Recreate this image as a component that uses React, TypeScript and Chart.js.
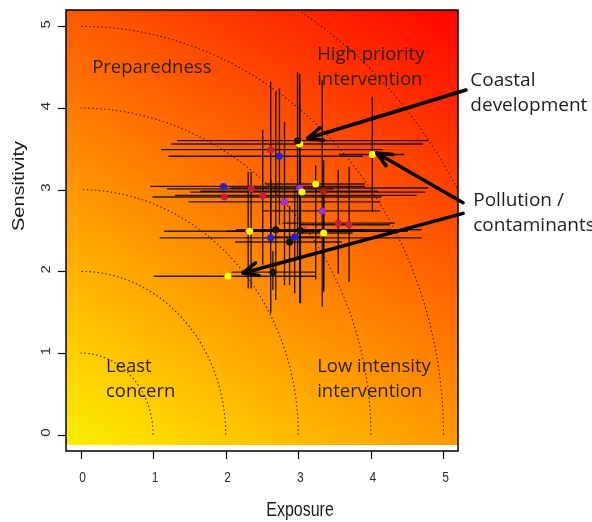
import React, { useEffect, useRef } from "react";
import { Chart, registerables } from "chart.js";

Chart.register(...registerables);

// ---------------- data ----------------
const expo = [2.62, 2.74, 3.02, 2.99, 4.02, 1.97, 2.35, 1.98, 2.51, 2.81, 3.02, 3.05, 3.24, 3.35, 3.33, 3.55, 3.70, 2.31, 2.33, 2.69, 2.62, 3.03, 2.95, 2.88, 3.35, 2.65, 2.03];
const sens = [3.49, 3.41, 3.56, 3.60, 3.43, 3.04, 3.01, 2.91, 2.93, 2.85, 3.02, 2.97, 3.07, 2.98, 2.74, 2.59, 2.57, 2.49, 2.49, 2.51, 2.41, 2.50, 2.42, 2.36, 2.47, 1.99, 1.94];
const expoLo = [1.11, 1.21, 1.25, 1.33, 3.56, 0.96, 1.19, 0.99, 1.30, 1.49, 2.06, 1.51, 2.54, 1.65, 2.51, 2.78, 3.02, 1.15, 2.01, 2.14, 1.09, 2.40, 2.60, 2.13, 3.00, 2.08, 1.01];
const expoHi = [4.17, 3.89, 4.72, 4.79, 4.46, 3.92, 3.49, 4.15, 4.63, 4.13, 4.79, 4.75, 3.92, 4.10, 4.13, 4.33, 4.26, 4.49, 4.51, 4.70, 4.70, 3.90, 3.30, 3.60, 3.75, 3.24, 3.24];
const sensLo = [2.38, 2.57, 1.61, 2.14, 2.73, 3.04, 1.79, 2.91, 2.08, 1.83, 2.02, 2.97, 1.90, 1.77, 1.57, 1.97, 1.87, 1.79, 2.49, 1.65, 1.49, 1.61, 1.73, 1.83, 1.75, 1.77, 1.94];
const sensHi = [4.32, 4.24, 4.42, 4.44, 4.14, 3.04, 3.22, 2.91, 3.73, 3.83, 4.30, 2.97, 3.30, 3.36, 4.34, 3.24, 3.28, 3.22, 2.49, 4.20, 3.12, 3.40, 3.00, 2.80, 2.90, 2.25, 1.94];
const pointColors = [
  "#c81e3c", "#2222dd", "#ffff00", "#111111", "#ffff00", "#2222dd", "#c81e3c", "#c81e3c", "#c81e3c",
  "#9a30e0", "#9a30e0", "#ffff00", "#ffff00", "#b01818", "#9a30e0", "#c81e3c", "#c81e3c", "#d030d0",
  "#ffff00", "#111111", "#2222dd", "#111111", "#2222dd", "#111111", "#ffff00", "#111111", "#ffff00",
];

const xTicks = [0, 1, 2, 3, 4, 5];
const yTicks = [0, 1, 2, 3, 4, 5];
const radii = [1, 2, 3, 4, 5, 6];

const regionLabels = [
  { lines: ["Preparedness"], x: 0.16, y: 4.49 },
  { lines: ["High priority", "intervention"], x: 3.26, y: 4.65 },
  { lines: ["Least", "concern"], x: 0.35, y: 0.83 },
  { lines: ["Low intensity", "intervention"], x: 3.26, y: 0.83 },
];
const calloutLabels = [
  { lines: ["Coastal", "development"], x: 5.37, y: 4.34 },
  { lines: ["Pollution /", "contaminants"], x: 5.41, y: 2.87 },
];
const arrowFrom = [[5.31, 4.22], [5.27, 2.84], [5.27, 2.71]];
const arrowTo = [[3.13, 3.63], [4.08, 3.45], [2.24, 1.98]];

const xTitle = "Exposure";
const yTitle = "Sensitivity";

// ---------------- plugins ----------------
const clamp = (v: number) => Math.max(0, Math.min(255, Math.round(v)));

const backgroundPlugin = {
  id: "heatBackground",
  beforeDatasetsDraw(chart: any) {
    const { ctx, chartArea, scales } = chart;
    const { left, top, right } = chartArea;
    const xs = scales.x;
    const ys = scales.y;
    const yEnd = ys.getPixelForValue(-0.13);
    const w = Math.round(right - left);
    const h = Math.round(yEnd - top);
    const off = document.createElement("canvas");
    off.width = w;
    off.height = h;
    const octx = off.getContext("2d")!;
    const img = octx.createImageData(w, h);
    for (let j = 0; j < h; j++) {
      const yv = ys.getValueForPixel(top + j + 0.5);
      for (let i = 0; i < w; i++) {
        const xv = xs.getValueForPixel(left + i + 0.5);
        const g = clamp(233 - 16 * xv - 28 * yv);
        const r = clamp(248 + 8 * (xv + yv));
        const k = (j * w + i) * 4;
        img.data[k] = r;
        img.data[k + 1] = g;
        img.data[k + 2] = 0;
        img.data[k + 3] = 255;
      }
    }
    octx.putImageData(img, 0, 0);
    ctx.save();
    ctx.drawImage(off, left, top);

    // dotted quarter circles
    ctx.beginPath();
    ctx.rect(chartArea.left, chartArea.top, chartArea.right - chartArea.left, yEnd - chartArea.top);
    ctx.clip();
    ctx.setLineDash([1.5, 2.5]);
    ctx.lineWidth = 1.1;
    ctx.strokeStyle = "rgba(50,20,0,0.85)";
    for (const r of radii) {
      ctx.beginPath();
      for (let s = 0; s <= 200; s++) {
        const th = (s / 200) * (Math.PI / 2);
        const px = xs.getPixelForValue(r * Math.cos(th));
        const py = ys.getPixelForValue(r * Math.sin(th));
        if (s === 0) ctx.moveTo(px, py);
        else ctx.lineTo(px, py);
      }
      ctx.stroke();
    }
    ctx.setLineDash([]);
    ctx.restore();

    // region labels
    ctx.save();
    ctx.font = '18.5px "Open Sans"';
    ctx.fillStyle = "rgb(45,30,10)";
    ctx.textBaseline = "middle";
    ctx.textAlign = "left";
    for (const lab of regionLabels) {
      const px = xs.getPixelForValue(lab.x);
      const py = ys.getPixelForValue(lab.y);
      lab.lines.forEach((t, k) => ctx.fillText(t, px, py + k * 25));
    }
    ctx.restore();

    // error bars (under the point markers)
    ctx.save();
    ctx.strokeStyle = "rgba(0,0,0,0.82)";
    ctx.lineWidth = 1.4;
    for (let i = 0; i < expo.length; i++) {
      const cx = xs.getPixelForValue(expo[i]);
      const cy = ys.getPixelForValue(sens[i]);
      if (expoHi[i] > expoLo[i]) {
        ctx.beginPath();
        ctx.moveTo(xs.getPixelForValue(expoLo[i]), cy);
        ctx.lineTo(xs.getPixelForValue(expoHi[i]), cy);
        ctx.stroke();
      }
      if (sensHi[i] > sensLo[i]) {
        ctx.beginPath();
        ctx.moveTo(cx, ys.getPixelForValue(sensLo[i]));
        ctx.lineTo(cx, ys.getPixelForValue(sensHi[i]));
        ctx.stroke();
      }
    }
    ctx.restore();
  },
};

const frameworkPlugin = {
  id: "frame",
  afterDraw(chart: any) {
    const { ctx, chartArea, scales } = chart;
    const xs = scales.x;
    const ys = scales.y;
    const { left, top, right, bottom } = chartArea;
    ctx.save();
    // box
    ctx.strokeStyle = "#000";
    ctx.lineWidth = 1.5;
    ctx.strokeRect(left, top, right - left, bottom - top);

    // ticks
    ctx.lineWidth = 1.2;
    for (const t of xTicks) {
      const px = Math.round(xs.getPixelForValue(t)) + 0.5;
      ctx.beginPath();
      ctx.moveTo(px, bottom);
      ctx.lineTo(px, bottom + 8);
      ctx.stroke();
    }
    for (const t of yTicks) {
      const py = Math.round(ys.getPixelForValue(t)) + 0.5;
      ctx.beginPath();
      ctx.moveTo(left, py);
      ctx.lineTo(left - 8, py);
      ctx.stroke();
    }

    // tick labels (squeezed horizontally)
    ctx.fillStyle = "#2a2a2a";
    ctx.font = '15px "Liberation Sans", Arial, sans-serif';
    ctx.textAlign = "center";
    ctx.textBaseline = "middle";
    for (const t of xTicks) {
      const px = xs.getPixelForValue(t) + 2;
      ctx.save();
      ctx.translate(px, bottom + 27);
      ctx.scale(0.8, 1);
      ctx.fillText(String(t), 0, 0);
      ctx.restore();
    }
    for (const t of yTicks) {
      const py = ys.getPixelForValue(t) - 2;
      ctx.save();
      ctx.translate(left - 19, py);
      ctx.scale(0.8, 1);
      ctx.rotate(-Math.PI / 2);
      ctx.fillText(String(t), 0, 0);
      ctx.restore();
    }

    // axis titles
    ctx.fillStyle = "#1a1a1a";
    ctx.font = '20px "Liberation Sans", Arial, sans-serif';
    ctx.save();
    ctx.translate(300, bottom + 59);
    ctx.scale(0.8, 1);
    ctx.fillText(xTitle, 0, 0);
    ctx.restore();
    ctx.save();
    ctx.translate(20, 186);
    ctx.scale(0.8, 1);
    ctx.rotate(-Math.PI / 2);
    ctx.fillText(yTitle, 0, 0);
    ctx.restore();

    // arrows
    ctx.strokeStyle = "#000";
    ctx.lineWidth = 3.5;
    ctx.lineCap = "round";
    ctx.lineJoin = "round";
    for (let i = 0; i < arrowFrom.length; i++) {
      const x0 = xs.getPixelForValue(arrowFrom[i][0]);
      const y0 = ys.getPixelForValue(arrowFrom[i][1]);
      const x1 = xs.getPixelForValue(arrowTo[i][0]);
      const y1 = ys.getPixelForValue(arrowTo[i][1]);
      const ang = Math.atan2(y1 - y0, x1 - x0);
      ctx.beginPath();
      ctx.moveTo(x0, y0);
      ctx.lineTo(x1, y1);
      ctx.stroke();
      const L = 16;
      const a = 0.42;
      ctx.beginPath();
      ctx.moveTo(x1 - L * Math.cos(ang - a), y1 - L * Math.sin(ang - a));
      ctx.lineTo(x1, y1);
      ctx.lineTo(x1 - L * Math.cos(ang + a), y1 - L * Math.sin(ang + a));
      ctx.stroke();
    }

    // callout labels
    ctx.font = '19px "Open Sans"';
    ctx.fillStyle = "#1e1e1e";
    ctx.textAlign = "left";
    ctx.textBaseline = "middle";
    for (const lab of calloutLabels) {
      const px = xs.getPixelForValue(lab.x);
      const py = ys.getPixelForValue(lab.y);
      lab.lines.forEach((t, k) => ctx.fillText(t, px, py + k * 25));
    }
    ctx.restore();
  },
};

export default function App() {
  const ref = useRef<HTMLCanvasElement | null>(null);
  useEffect(() => {
    if (!ref.current) return;
    const chart = new Chart(ref.current, {
      type: "scatter",
      data: {
        datasets: [
          {
            data: expo.map((e, i) => ({ x: e, y: sens[i] })),
            pointRadius: 3.5,
            pointBackgroundColor: pointColors,
            pointBorderWidth: 0,
            pointBorderColor: pointColors,
          },
        ],
      },
      options: {
        responsive: false,
        animation: false,
        events: [],
        layout: { padding: { left: 66, right: 134, top: 10, bottom: 71 } },
        plugins: { legend: { display: false }, tooltip: { enabled: false } },
        scales: {
          x: { type: "linear", min: -0.2, max: 5.2, display: false },
          y: { type: "linear", min: -0.2, max: 5.2, display: false },
        },
      },
      plugins: [backgroundPlugin, frameworkPlugin],
    });
    return () => chart.destroy();
  }, []);
  return (
    <div style={{ position: "absolute", left: 0, top: 0, width: 592, height: 522, background: "#fff" }}>
      <canvas ref={ref} width={592} height={522} style={{ display: "block" }} />
    </div>
  );
}
